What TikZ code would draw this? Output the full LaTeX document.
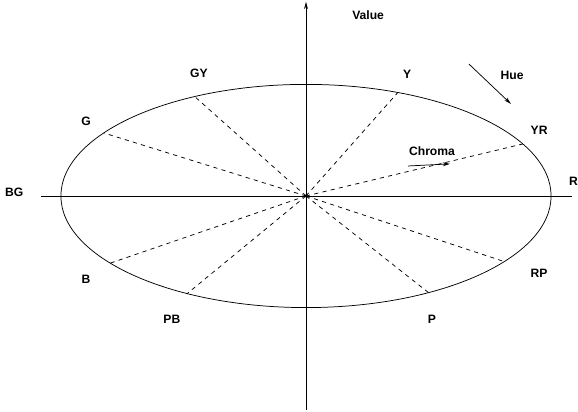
\documentclass[tikz,border=0pt]{standalone}
\usepackage{fontspec}
\setmainfont{Liberation Sans}
\usetikzlibrary{arrows.meta}

\tikzset{
  lbl/.style={font=\fontsize{11.5}{13}\selectfont\bfseries, inner sep=0pt},
  ray/.style={dashed, dash pattern=on 4pt off 4pt},
}

\begin{document}
\begin{tikzpicture}[line width=0.7pt,>={Stealth[length=2.4mm,width=1.3mm]}]
  \useasboundingbox (-10.2,-7.2) rectangle (9.067,6.533);
  % ejes
  \coordinate (O) at (0,0);
  \coordinate (vtop) at (0,6.47);
  \coordinate (vbot) at (0,-7.13);
  \coordinate (hleft) at (-8.83,0);
  \coordinate (hright) at (8.87,0);
  \draw[->] (vbot) -- (vtop);
  \draw (hleft) -- (hright);
  % elipse
  \draw (O) ellipse [x radius=8.17, y radius=3.72];
  % rayos
  \foreach \t/\n in {145.6/G, 117/GY, 68/Y, 27.8/YR, -36/RP, -60/P, -119/PB, -143/B}
    \coordinate (e-\n) at ({8.17*cos(\t)},{3.72*sin(\t)});
  \foreach \n in {G, GY, Y, YR, RP, P, PB, B}
    \draw[ray] (O) -- (e-\n);
  \fill (O) circle (1.6pt);
  % etiquetas
  \node[lbl] (value) at (2.07,6.03) {Value};
  \node[lbl] (hue) at (6.87,4.03) {Hue};
  \node[lbl] (chroma) at (4.2,1.5) {Chroma};
  \node[lbl,anchor=west] (lR) at (8.76,0.5) {R};
  \node[lbl] (lBG) at (-9.73,0.13) {BG};
  \node[lbl] (lG) at (-7.33,2.5) {G};
  \node[lbl] (lGY) at (-3.57,4.1) {GY};
  \node[lbl] (lY) at (3.37,4.07) {Y};
  \node[lbl] (lYR) at (7.77,2.2) {YR};
  \node[lbl] (lB) at (-7.33,-2.77) {B};
  \node[lbl] (lPB) at (-4.47,-4.1) {PB};
  \node[lbl] (lP) at (4.2,-4.1) {P};
  \node[lbl] (lRP) at (7.77,-2.57) {RP};
  % flechas
  \coordinate (hue-a) at (5.43,4.4);
  \coordinate (hue-b) at (6.83,3.07);
  \draw[->] (hue-a) -- (hue-b);
  \coordinate (chr-a) at (3.4,1.0);
  \coordinate (chr-b) at (4.8,1.07);
  \draw[->] (chr-a) -- (chr-b);
\end{tikzpicture}
\end{document}
